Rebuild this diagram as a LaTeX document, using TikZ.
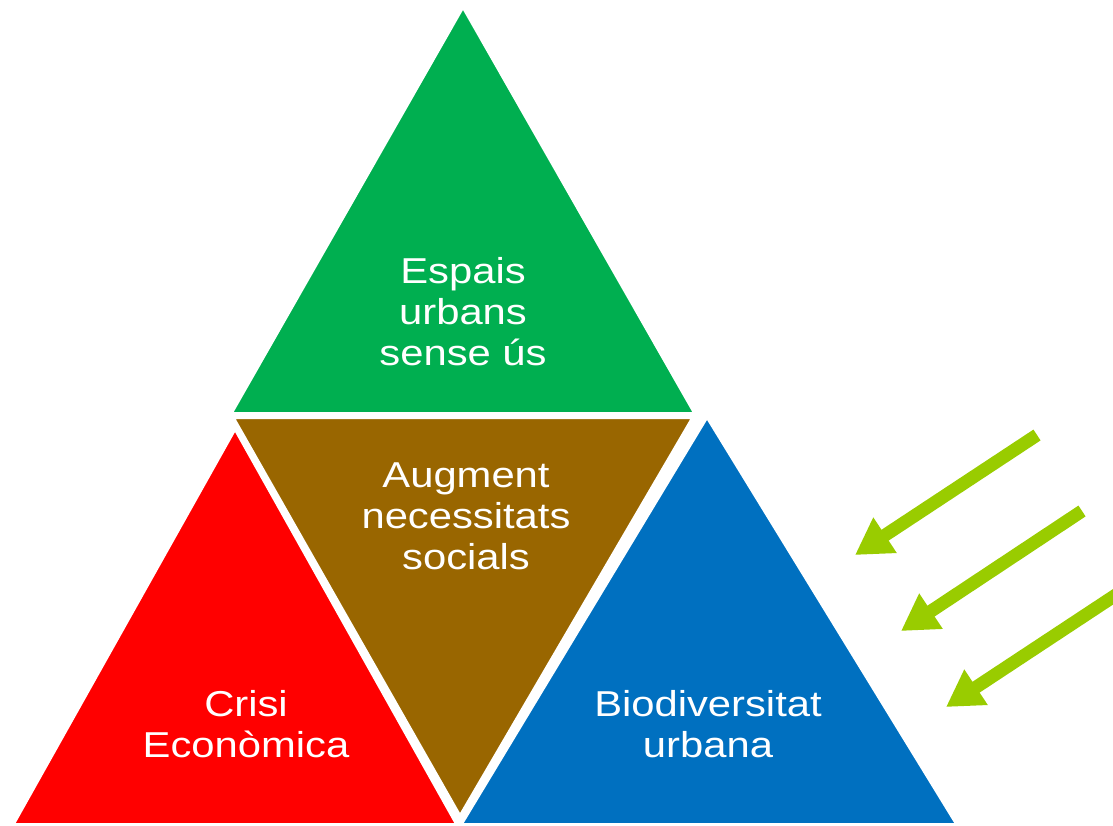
\documentclass[tikz,border=0pt]{standalone}
\usepackage{fontspec}
\setmainfont{Liberation Sans}
\newfontfamily\widesans[FakeStretch=1.16]{Liberation Sans}
\usetikzlibrary{arrows.meta}
\definecolor{tgreen}{RGB}{0,175,80}
\definecolor{tbrown}{RGB}{153,102,0}
\definecolor{tred}{RGB}{255,0,0}
\definecolor{tblue}{RGB}{0,112,192}
\definecolor{tarrow}{RGB}{153,204,0}
\tikzset{
  tri/.style={draw=white,line width=2pt,line join=miter},
  lbl/.style={text=white,align=center,font=\widesans\fontsize{36}{41}\selectfont,inner sep=0pt},
  ray/.style={draw=tarrow,line width=13pt,-{Triangle[length=36pt,width=40pt]}},
}
\begin{document}
\begin{tikzpicture}[x=1pt,y=-1pt]
\useasboundingbox (0,0) rectangle (1113,825);
% triangles
\fill[tgreen,tri] (463,8) -- (232,413) -- (694,413) -- cycle;
\fill[tbrown,tri] (234,418) -- (692,418) -- (460,815) -- cycle;
\fill[tred,tri] (235,430) -- (14,824) -- (456,824) -- cycle;
\fill[tblue,tri] (707,418) -- (462,824) -- (956,824) -- cycle;
% labels
\node[lbl] (espais) at (463,312) {Espais\\urbans\\sense ús};
\node[lbl] (augment) at (466,516) {Augment\\necessitats\\socials};
\node[lbl] (crisi) at (246,724) {Crisi\\Econòmica};
\node[lbl] (bio) at (708,724) {Biodiversitat\\urbana};
% arrows
\coordinate (a1s) at (1037,435);
\coordinate (a1e) at (855,555);
\coordinate (a2s) at (1082,511);
\coordinate (a2e) at (901,631);
\coordinate (a3s) at (1140,579);
\coordinate (a3e) at (946,707);
\draw[ray] (a1s) -- (a1e);
\draw[ray] (a2s) -- (a2e);
\draw[ray] (a3s) -- (a3e);
\end{tikzpicture}
\end{document}
